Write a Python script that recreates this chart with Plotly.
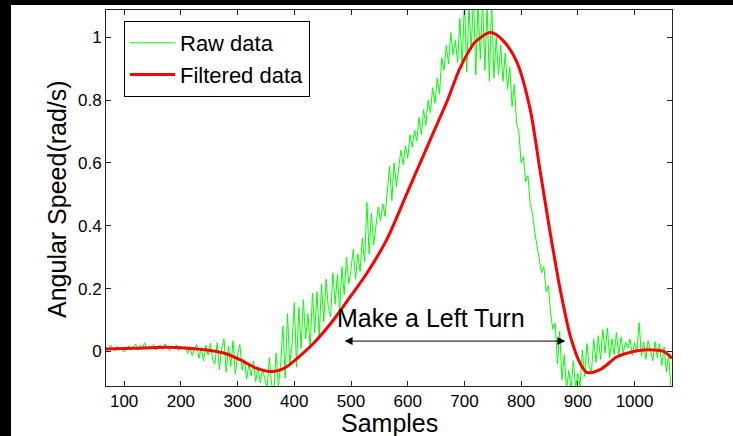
import plotly.graph_objects as go

# ---- data ----
raw_start, raw_step = 68, 4
raw_values = [
    0.015, 0.004, 0.020, 0.008, 0.002, 0.016, 0.006, 0.012, -0.002, 0.010,
    0.018, 0.005, 0.014, 0.024, 0.008, 0.020, 0.012, 0.028, 0.006, 0.018,
    0.010, 0.022, 0.004, 0.016, 0.020, 0.007, 0.024, 0.012, 0.002, 0.018,
    0.008, 0.021, 0.003, 0.015, 0.009, 0.017,
    -0.006, 0.016, -0.014, 0.008, 0.022, -0.022, 0.012, -0.030, 0.020, -0.012, 0.026, -0.026,
    -0.040, 0.028, -0.058, 0.010, 0.040, -0.066, 0.018, -0.048, 0.034, -0.072, -0.010, 0.022,
    -0.060, -0.025, -0.088, -0.040, -0.078, -0.030, -0.096, -0.048, -0.100, -0.055, -0.090,
    -0.118, -0.020, -0.105, -0.125, -0.005, -0.112, -0.040,
    0.080, -0.085, 0.120, -0.040, 0.020, 0.155, -0.050, 0.140,
    0.010, 0.165, 0.040, 0.120, 0.010, 0.185, 0.060, 0.190, 0.050,
    0.215, 0.095, 0.230, 0.140, 0.110, 0.250, 0.150, 0.245, 0.130,
    0.270, 0.180, 0.300, 0.215, 0.260, 0.325, 0.230, 0.310, 0.255,
    0.360, 0.285, 0.475, 0.310, 0.440, 0.340, 0.395, 0.460,
    0.415, 0.470, 0.430, 0.520, 0.590, 0.480, 0.600, 0.525, 0.575,
    0.640, 0.595, 0.655, 0.615, 0.690, 0.650, 0.705, 0.670, 0.745,
    0.690, 0.770, 0.720, 0.800, 0.760, 0.840, 0.790, 0.870, 0.820,
    0.935, 0.895, 0.975, 0.915, 1.015, 0.945, 0.990, 0.920, 1.060,
    0.905, 1.120, 0.890, 1.100, 0.960, 1.130, 0.880, 1.110, 0.930,
    1.120, 0.895, 1.100, 0.860, 1.115, 0.870, 1.000, 0.880,
    0.975, 0.860, 0.950, 0.835, 0.905, 0.780, 0.850, 0.725,
    0.700, 0.600, 0.620, 0.540, 0.560, 0.470, 0.440, 0.380, 0.340,
    0.290, 0.250, 0.270, 0.190, 0.210, 0.120, 0.070, 0.090, -0.040,
    0.065, -0.090, -0.010, -0.120, -0.060, -0.120, -0.030, -0.115, -0.070,
    -0.110, 0.005, -0.080, 0.025, -0.050, -0.065, 0.040, -0.035,
    0.050, -0.025, 0.070, -0.005, 0.075, -0.020, 0.040, -0.010, 0.060,
    -0.010, 0.045, -0.005, 0.030, 0.010, 0.040, -0.012, 0.028, -0.002,
    0.092, -0.015, 0.030, -0.025, 0.035, 0.005, -0.030, 0.032, -0.020,
    0.025, -0.045, 0.015, -0.065, -0.015, -0.110,
]
raw_samples = [raw_start + raw_step * i for i in range(len(raw_values))]

filt_samples = [68, 116, 175, 211, 252, 281, 305, 334, 358, 375, 387, 405,
                434, 469, 499, 528, 563, 599, 628, 646, 669, 693, 719, 746,
                769, 793, 816, 833, 851, 869, 887, 904, 916, 940, 969,
                998, 1016, 1051, 1066]
filt_values = [0.008, 0.010, 0.013, 0.010, 0.003, -0.008, -0.027, -0.054,
               -0.064, -0.059, -0.048, -0.022, 0.026, 0.100, 0.175, 0.249,
               0.356, 0.505, 0.625, 0.700, 0.795, 0.905, 0.985, 1.015,
               0.988, 0.919, 0.770, 0.580, 0.380, 0.196, 0.047,
               -0.038, -0.067, -0.057, -0.017, 0.000, 0.005, 0.000, -0.022]

x_ticks = [100, 200, 300, 400, 500, 600, 700, 800, 900, 1000]
y_ticks = [0, 0.2, 0.4, 0.6, 0.8, 1]
y_tick_labels = ["0", "0.2", "0.4", "0.6", "0.8", "1"]

turn_start, turn_end, turn_level = 486, 878, 0.033
turn_label = "Make a Left Turn"
turn_label_pos = (641, 0.107)

FONT = "Liberation Sans, Arial, Helvetica, sans-serif"

fig = go.Figure()
fig.add_trace(go.Scatter(x=raw_samples, y=raw_values, mode="lines",
                         name="Raw data", line=dict(color="#00ff00", width=1)))
fig.add_trace(go.Scatter(x=filt_samples, y=filt_values, mode="lines",
                         name="Filtered data",
                         line=dict(color="#ff0000", width=3, shape="spline",
                                   smoothing=0.8)))

fig.add_annotation(x=turn_end, y=turn_level, ax=turn_start, ay=turn_level,
                   xref="x", yref="y", axref="x", ayref="y", text="",
                   showarrow=True, arrowhead=2, arrowside="end+start",
                   arrowsize=1.6, arrowwidth=1, arrowcolor="black")
fig.add_annotation(x=turn_label_pos[0], y=turn_label_pos[1], text=turn_label,
                   showarrow=False, font=dict(size=25, color="black", family=FONT))

W, H = 733, 436
L, R, T, B = 106, 61, 10, 50
pw, ph = W - L - R, H - T - B
def px(xp): return (xp - L) / pw
def py(yp): return (H - B - yp) / ph

# axis titles placed as annotations for exact placement
fig.add_annotation(x=0.5, y=py(423), xref="paper", yref="paper", text="Samples",
                   showarrow=False, xanchor="center", yanchor="middle",
                   font=dict(size=25, color="black", family=FONT))
fig.add_annotation(x=px(57), y=py(199), xref="paper", yref="paper",
                   text="Angular Speed(rad/s)", textangle=-90,
                   showarrow=False, xanchor="center", yanchor="middle",
                   font=dict(size=25, color="black", family=FONT))

# black page (paper) with white figure area, leaving black strips top and left
fig.add_shape(type="rect", xref="paper", yref="paper", x0=px(11), x1=px(W + 2),
              y0=py(H + 2), y1=py(5), fillcolor="white", line=dict(width=0),
              layer="below")

axis_common = dict(showgrid=False, zeroline=False, showline=True, linecolor="#222",
                   linewidth=1, mirror="ticks", ticks="inside", ticklen=5,
                   tickcolor="#222", automargin=False,
                   tickfont=dict(size=17, color="black", family=FONT))
fig.update_xaxes(range=[68, 1066], tickvals=x_ticks, **axis_common)
fig.update_yaxes(range=[-0.11, 1.087], tickvals=y_ticks, ticktext=y_tick_labels,
                 **axis_common)

fig.update_layout(
    width=W, height=H, autosize=False,
    margin=dict(l=L, r=R, t=T, b=B, pad=0, autoexpand=False),
    paper_bgcolor="black", plot_bgcolor="white",
    font=dict(family=FONT, color="black"),
    legend=dict(x=px(124), y=py(21), xanchor="left", yanchor="top",
                bgcolor="white", bordercolor="black", borderwidth=1,
                font=dict(size=22, color="black", family=FONT),
                itemwidth=45, tracegroupgap=0),
    showlegend=True,
)

fig.write_html("out.html",
               config={"displayModeBar": False},
               post_script="document.body.style.margin='0';"
                           "document.body.style.padding='0';"
                           "document.body.style.overflow='hidden';"
                           "document.body.style.background='black';")
